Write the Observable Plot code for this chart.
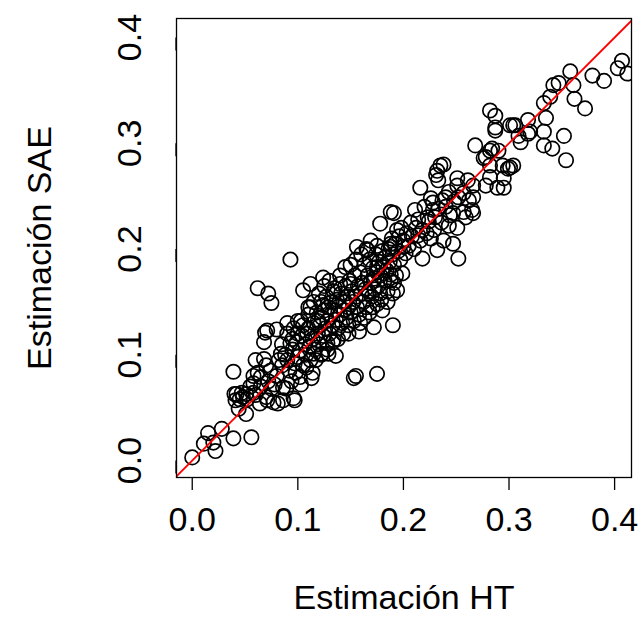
<!DOCTYPE html>
<html><head><meta charset="utf-8">
<script src="https://cdn.jsdelivr.net/npm/d3@7"></script>
<script src="https://cdn.jsdelivr.net/npm/@observablehq/plot@0.6"></script>
<style>body{margin:0;background:#fff}</style>
</head><body><div id="chart"></div>
<script>
const xTicks = [0, 0.1, 0.2, 0.3, 0.4];
const yTicks = [0, 0.1, 0.2, 0.3, 0.4];
const xLabel = "Estimación HT";
const yLabel = "Estimación SAE";
const identityLine = [-0.1, 0.5];

// [HT estimate, SAE estimate]
const lowGroup = [
[0.000,0.003],[0.011,0.016],[0.015,0.026],[0.022,0.009],[0.020,0.017],[0.028,0.030],[0.039,0.021],[0.056,0.022],
[0.040,0.063],[0.047,0.064],[0.051,0.063],[0.044,0.049],[0.051,0.044],[0.064,0.054],[0.077,0.055],[0.070,0.060],
[0.086,0.057],[0.039,0.084],[0.058,0.064],[0.097,0.057],[0.089,0.068],[0.102,0.079],[0.041,0.057],[0.058,0.073],
[0.086,0.069],[0.096,0.059],[0.081,0.054],[0.071,0.057],[0.114,0.083],[0.074,0.085],[0.065,0.079],
[0.042,0.063],[0.045,0.058],[0.048,0.060],[0.052,0.058],[0.055,0.070],[0.060,0.062],[0.065,0.070],[0.075,0.068],
[0.078,0.072],[0.072,0.075],[0.062,0.083],[0.058,0.080]
];
const outlierGroup = [
[0.062,0.163],[0.072,0.158],[0.075,0.149],[0.093,0.190],[0.172,0.126],[0.190,0.128],[0.155,0.080],[0.153,0.078],
[0.175,0.082],[0.136,0.099],[0.069,0.121],[0.080,0.124],[0.071,0.123],[0.068,0.112],[0.060,0.095],[0.068,0.096]
];
const midGroup = [
[0.115,0.101],[0.129,0.101],[0.090,0.130],[0.103,0.132],[0.112,0.145],[0.123,0.101],[0.128,0.111],[0.109,0.120],
[0.119,0.132],[0.124,0.147],[0.093,0.111],[0.084,0.101],[0.124,0.173],[0.112,0.167],[0.105,0.161],[0.145,0.183],
[0.156,0.202],[0.166,0.199],[0.175,0.203],[0.188,0.205],[0.150,0.167],[0.140,0.167],[0.110,0.145],[0.100,0.132],
[0.096,0.125],[0.159,0.130],[0.148,0.120],[0.134,0.114],[0.178,0.158],[0.188,0.170],[0.194,0.161],[0.171,0.145]
];
const coreGroup = [
[0.085,0.090],[0.088,0.100],[0.090,0.095],[0.092,0.085],[0.095,0.105],[0.097,0.092],[0.099,0.112],[0.100,0.098],
[0.102,0.104],[0.104,0.118],[0.105,0.090],[0.107,0.110],[0.108,0.100],[0.110,0.125],[0.111,0.108],[0.112,0.095],
[0.114,0.115],[0.115,0.130],[0.116,0.105],[0.118,0.140],[0.119,0.120],[0.120,0.110],[0.121,0.128],[0.122,0.150],
[0.123,0.135],[0.124,0.118],[0.125,0.142],[0.126,0.125],[0.127,0.155],[0.128,0.132],[0.129,0.145],[0.130,0.120],
[0.131,0.138],[0.132,0.150],[0.133,0.128],[0.134,0.160],[0.135,0.142],[0.136,0.133],[0.137,0.152],[0.138,0.125],
[0.139,0.146],[0.140,0.138],[0.141,0.158],[0.142,0.130],[0.143,0.150],[0.144,0.142],[0.145,0.165],[0.146,0.135],
[0.147,0.155],[0.148,0.145],[0.149,0.170],[0.150,0.140],[0.151,0.160],[0.152,0.150],[0.153,0.132],[0.154,0.175],
[0.155,0.155],[0.156,0.145],[0.157,0.165],[0.158,0.138],[0.159,0.178],[0.160,0.158],[0.161,0.168],[0.162,0.150],
[0.163,0.185],[0.164,0.162],[0.165,0.145],[0.166,0.175],[0.167,0.160],[0.168,0.190],[0.169,0.168],[0.170,0.155],
[0.171,0.182],[0.172,0.172],[0.173,0.162],[0.174,0.195],[0.175,0.178],[0.176,0.165],[0.177,0.188],[0.178,0.175],
[0.179,0.152],[0.180,0.198],[0.181,0.183],[0.182,0.170],[0.183,0.192],[0.184,0.180],[0.185,0.160],[0.186,0.200],
[0.187,0.188],[0.188,0.176],[0.189,0.210],[0.190,0.195],[0.191,0.185],[0.192,0.205],[0.193,0.175],[0.195,0.198],
[0.196,0.212],[0.197,0.190],[0.198,0.220],[0.200,0.208],[0.202,0.196],[0.203,0.215],[0.205,0.203],[0.207,0.225],
[0.208,0.212],[0.210,0.200],[0.212,0.220],[0.214,0.228],[0.216,0.208],[0.218,0.218],[0.220,0.240],[0.222,0.215],
[0.224,0.226],[0.226,0.210],[0.228,0.244],[0.230,0.230],[0.233,0.238],[0.236,0.225],[0.240,0.240],[0.244,0.232],
[0.248,0.245],[0.094,0.075],[0.098,0.083],[0.103,0.072],[0.108,0.088],[0.113,0.078],[0.117,0.095],[0.122,0.100],
[0.128,0.105],[0.133,0.112],[0.138,0.115],[0.143,0.120],[0.148,0.128],[0.158,0.122],[0.163,0.135],[0.168,0.140],
[0.175,0.148],[0.180,0.142],[0.185,0.150],[0.190,0.158],[0.080,0.080],[0.082,0.095],[0.070,0.090],[0.100,0.120],
[0.105,0.128],[0.095,0.115],[0.090,0.120],[0.085,0.110],[0.110,0.138],[0.115,0.150],[0.120,0.158],[0.125,0.165],
[0.130,0.170],[0.135,0.163],[0.140,0.175],[0.145,0.150],[0.150,0.185],[0.155,0.190],[0.160,0.195],[0.165,0.200]
];
const upperGroup = [
[0.216,0.258],[0.233,0.265],[0.251,0.260],[0.257,0.253],[0.240,0.249],[0.226,0.248],[0.211,0.237],[0.191,0.234],
[0.178,0.224],[0.194,0.218],[0.214,0.213],[0.229,0.218],[0.243,0.222],[0.251,0.220],[0.257,0.235],[0.238,0.208],
[0.247,0.205],[0.218,0.191],[0.232,0.199],[0.252,0.191],[0.200,0.202],[0.188,0.202],[0.169,0.208],[0.175,0.183],
[0.199,0.177],[0.191,0.168],[0.172,0.170],[0.188,0.235],[0.232,0.274],[0.238,0.280],
[0.231,0.270],[0.235,0.279],[0.268,0.298],[0.284,0.295],[0.290,0.293],[0.278,0.287],[0.294,0.279],[0.301,0.277],
[0.287,0.315],[0.304,0.317],[0.318,0.309],[0.311,0.301],[0.295,0.258],[0.289,0.258],[0.278,0.260],[0.266,0.260],
[0.261,0.265],[0.251,0.267],[0.243,0.254],[0.252,0.249],[0.262,0.246],[0.237,0.246],[0.228,0.237],[0.223,0.230],
[0.259,0.230],[0.247,0.234],[0.266,0.234]
];
const topGroup = [
[0.358,0.368],[0.379,0.364],[0.390,0.359],[0.407,0.378],[0.403,0.371],[0.412,0.366],[0.347,0.357],[0.342,0.355],
[0.361,0.355],[0.362,0.342],[0.372,0.333],[0.339,0.344],[0.333,0.338],[0.335,0.324],[0.333,0.311],[0.352,0.307],
[0.354,0.284],[0.341,0.295],[0.333,0.298],[0.318,0.322],[0.320,0.311],[0.309,0.307],[0.306,0.317],[0.301,0.317],
[0.282,0.331],[0.287,0.326],[0.287,0.312],[0.282,0.293],[0.276,0.286],[0.304,0.279],[0.299,0.276],[0.282,0.279],
[0.295,0.267],[0.282,0.268],[0.266,0.249],[0.265,0.237]
];

const points = [...lowGroup, ...outlierGroup, ...midGroup, ...coreGroup, ...upperGroup, ...topGroup]
  .map(([ht, sae]) => ({ht, sae}));
const lineData = identityLine.map(v => ({v}));
const fs = 34;

const chart = Plot.plot({
  width: 641, height: 640,
  marginLeft: 176, marginRight: 10, marginTop: 18, marginBottom: 163,
  style: {fontFamily: "'Liberation Sans', Arial, Helvetica, sans-serif", background: "white", color: "black"},
  x: {domain: [-0.0149, 0.416]},
  y: {domain: [-0.016, 0.418]},
  marks: [
    Plot.dot(points, {x: "ht", y: "sae", r: 7.2, stroke: "black", strokeWidth: 1.7, fill: "none", clip: true}),
    Plot.line(lineData, {x: "v", y: "v", stroke: "#ff0000", strokeWidth: 1.8, clip: true}),
    Plot.frame({stroke: "black", strokeWidth: 1.3}),
    Plot.axisX({ticks: xTicks, tickFormat: d3.format(".1f"), tickSize: 13, tickPadding: 16, fontSize: fs, label: null, strokeWidth: 1.3}),
    Plot.axisY({ticks: yTicks, tickFormat: d3.format(".1f"), tickSize: 13, tickPadding: 33, fontSize: fs, rotate: -90, textAnchor: "middle", label: null, strokeWidth: 1.3}),
    Plot.text([xLabel], {frameAnchor: "bottom", dy: 121, lineAnchor: "middle", textAnchor: "middle", fontSize: fs}),
    Plot.text([yLabel], {frameAnchor: "left", dx: -136, rotate: -90, textAnchor: "middle", lineAnchor: "middle", fontSize: fs})
  ]
});
document.getElementById("chart").appendChild(chart);
</script>
</body></html>
